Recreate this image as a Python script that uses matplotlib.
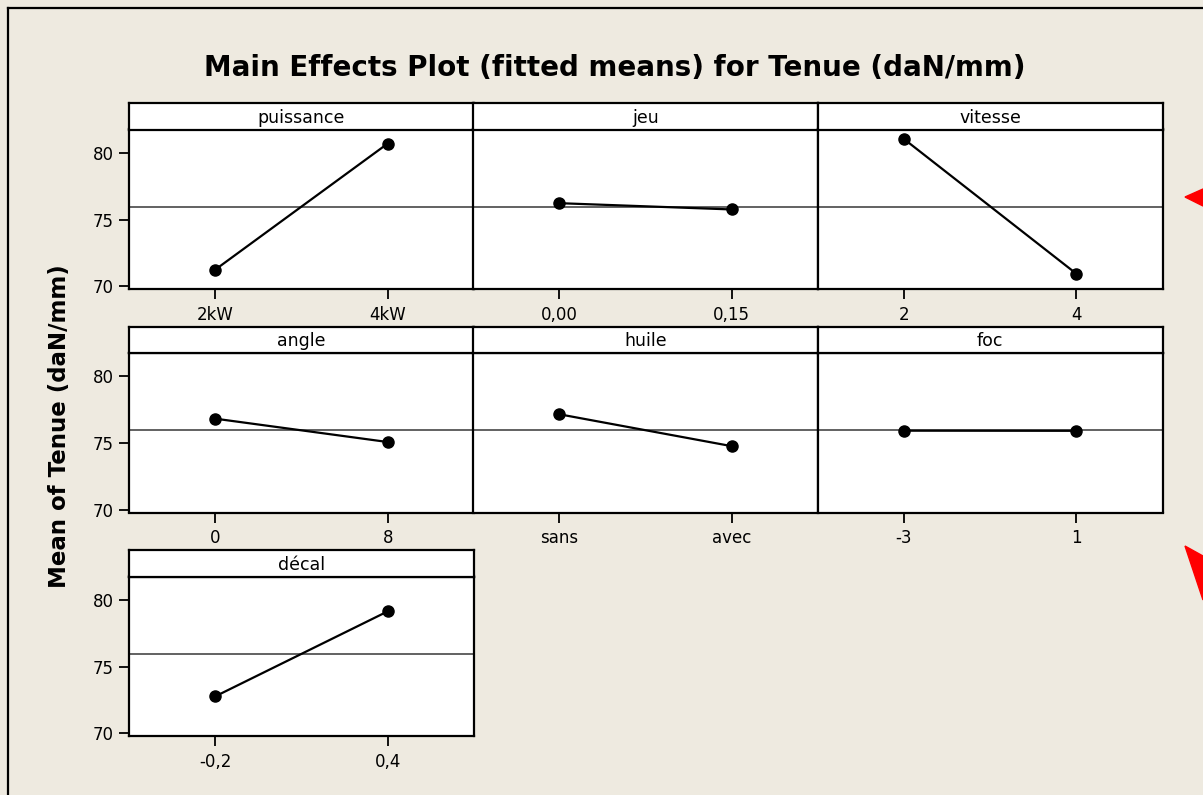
import matplotlib.pyplot as plt
from matplotlib.patches import Polygon
from matplotlib.lines import Line2D

# main effects (fitted means)
factors = ["puissance", "jeu", "vitesse", "angle", "huile", "foc", "décal"]
levels = [["2kW", "4kW"], ["0,00", "0,15"], ["2", "4"], ["0", "8"],
          ["sans", "avec"], ["-3", "1"], ["-0,2", "0,4"]]
means = [[71.25, 80.7], [76.23, 75.76], [81.05, 70.95], [76.83, 75.08],
         [77.16, 74.77], [75.93, 75.92], [72.77, 79.14]]
grand_mean = 75.95
yticks = [70, 75, 80]

W, H = 1203, 795
bg = "#EEEAE0"

fig = plt.figure(figsize=(W / 100, H / 100), dpi=100, facecolor=bg)
plt.rcParams["font.family"] = ["DejaVu Sans"]


def fx(px):
    return px / W


def fy(py):
    return 1 - py / H


col_left = [129, 473, 817.5]
col_w = 345
row_top = [103, 326.5, 550]
head_h = 26.5
plot_h = 159.5

for i, name in enumerate(factors):
    r, c = divmod(i, 3)
    x0 = col_left[c]
    top = row_top[r]
    # plot area
    ax = fig.add_axes([fx(x0), fy(top + head_h + plot_h), col_w / W, plot_h / H])
    ax.set_facecolor("white")
    ax.axhline(grand_mean, color="#555555", lw=1.3, zorder=1)
    ax.plot(range(len(levels[i])), means[i], color="black", lw=1.6,
            marker="o", markersize=8, zorder=3)
    ax.set_xlim(-0.5, 1.5)
    ax.set_ylim(69.8, 81.75)
    ax.set_xticks(range(len(levels[i])))
    ax.set_xticklabels(levels[i])
    ax.tick_params(axis="x", length=7, width=1.3, pad=5, labelsize=12)
    if c == 0:
        ax.set_yticks(yticks)
        ax.tick_params(axis="y", length=7, width=1.3, pad=4, labelsize=12)
    else:
        ax.set_yticks([])
    for s in ax.spines.values():
        s.set_linewidth(1.6)
    # header strip
    hx = fig.add_axes([fx(x0), fy(top + head_h), col_w / W, head_h / H])
    hx.set_facecolor("white")
    hx.set_xticks([])
    hx.set_yticks([])
    for s in hx.spines.values():
        s.set_linewidth(1.6)
    hx.text(0.5, 0.45, name, ha="center", va="center", fontsize=12.5,
            transform=hx.transAxes)

fig.text(fx(615), fy(68), "Main Effects Plot (fitted means) for Tenue (daN/mm)",
         ha="center", va="center", fontsize=20, fontweight="bold")
fig.text(fx(60), fy(426), "Mean of Tenue (daN/mm)", ha="center", va="center",
         rotation=90, fontsize=16.5, fontweight="bold")

# window frame (cropped on the right and bottom)
fig.add_artist(Line2D([fx(8), fx(8)], [fy(8), 0], color="black", lw=1.6))
fig.add_artist(Line2D([fx(8), 1], [fy(8), fy(8)], color="black", lw=1.6))

# red arrow heads at the right edge
arrows = [[(1185, 197), (1203, 189), (1203, 206)],
          [(1185, 546), (1203, 556), (1203, 600)]]
for tri in arrows:
    fig.add_artist(Polygon([(fx(x), fy(y)) for x, y in tri], closed=True,
                           color="red", transform=fig.transFigure))

fig.savefig("out.png", dpi=100, facecolor=bg)
